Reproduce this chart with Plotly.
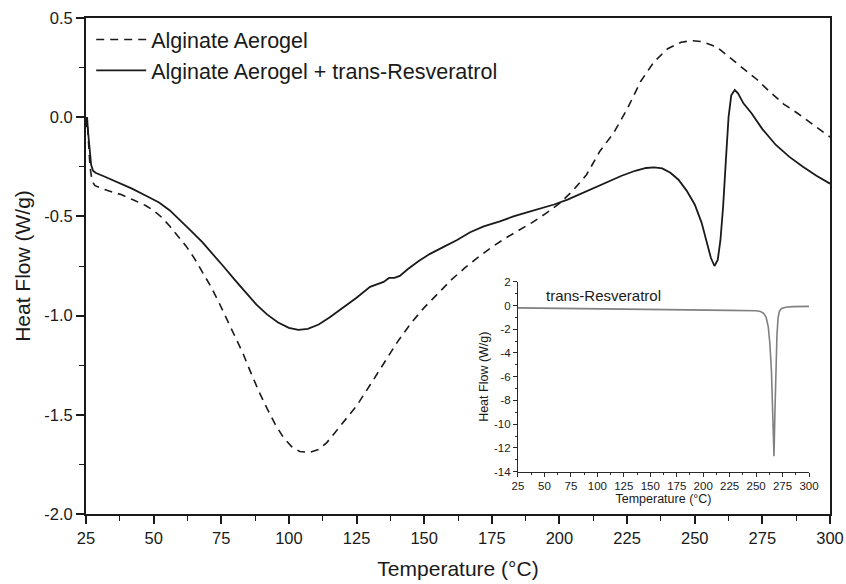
import plotly.graph_objects as go

# Alginate Aerogel (dashed)
t_aero = [25.0, 25.4, 25.9, 26.5, 27.2, 28.3, 33, 38, 43, 47, 50, 53, 56, 59, 62, 65, 68, 71, 74, 77,
          80, 83, 86, 89, 92, 95, 98, 101, 104, 107.5, 111, 114, 117, 120, 125, 130, 135, 140, 145, 150,
          155, 160, 165, 170, 175, 180, 185, 190, 195, 200, 205, 210, 215, 220, 225, 230, 235, 240, 245,
          249, 253, 258, 263, 268, 273, 278, 283, 288, 294, 300]
hf_aero = [-0.02, 0.0, -0.12, -0.25, -0.32, -0.345, -0.37, -0.39, -0.42, -0.445, -0.47, -0.505, -0.55,
           -0.60, -0.65, -0.71, -0.78, -0.85, -0.93, -1.015, -1.10, -1.19, -1.29, -1.385, -1.47, -1.55,
           -1.615, -1.66, -1.685, -1.69, -1.675, -1.64, -1.59, -1.54, -1.455, -1.35, -1.24, -1.135, -1.04,
           -0.96, -0.89, -0.82, -0.76, -0.705, -0.655, -0.61, -0.57, -0.53, -0.485, -0.435, -0.37, -0.29,
           -0.17, -0.08, 0.04, 0.18, 0.28, 0.345, 0.378, 0.386, 0.38, 0.355, 0.30, 0.245, 0.19, 0.125,
           0.065, 0.02, -0.04, -0.10]

# Alginate Aerogel + trans-Resveratrol (solid)
t_mix = [25.0, 25.4, 25.8, 26.3, 26.9, 27.6, 28.5, 32, 37, 42, 47, 52, 56, 60, 64, 68, 72, 76, 80, 84,
         88, 92, 96, 100, 103.5, 107, 111, 115, 120, 125, 130, 133, 135, 137, 139, 141, 144, 148, 152,
         157, 162, 167, 172, 178, 183, 188, 193, 198, 203, 208, 213, 218, 223, 228, 232, 235, 238, 241,
         244, 247, 250, 252.5, 254.5, 256, 257.3, 258.5, 259.5, 260.5, 261.5, 262.5, 263.5, 264.8, 266,
         268, 271, 275, 280, 285, 290, 295, 300]
hf_mix = [-0.05, 0.0, -0.08, -0.17, -0.24, -0.27, -0.28, -0.30, -0.33, -0.36, -0.395, -0.43, -0.47,
          -0.52, -0.575, -0.63, -0.69, -0.755, -0.82, -0.885, -0.945, -0.995, -1.035, -1.062, -1.072,
          -1.067, -1.045, -1.01, -0.96, -0.91, -0.855, -0.838, -0.83, -0.81, -0.81, -0.80, -0.765, -0.725,
          -0.69, -0.655, -0.62, -0.58, -0.55, -0.525, -0.50, -0.48, -0.46, -0.44, -0.415, -0.385, -0.355,
          -0.325, -0.295, -0.27, -0.256, -0.253, -0.258, -0.28, -0.315, -0.37, -0.44, -0.53, -0.63, -0.71,
          -0.75, -0.72, -0.62, -0.45, -0.22, 0.0, 0.11, 0.137, 0.12, 0.07, 0.02, -0.06, -0.14, -0.2,
          -0.25, -0.295, -0.335]

# Inset: trans-Resveratrol
t_res = [25, 50, 75, 100, 125, 150, 175, 200, 225, 250, 254, 257, 259.5, 261.5, 263, 264.5, 265.5,
         266.9, 267.8, 268.7, 269.7, 270.8, 272, 274, 278, 285, 292, 300]
hf_res = [-0.2, -0.22, -0.25, -0.28, -0.31, -0.33, -0.36, -0.38, -0.41, -0.45, -0.5, -0.65, -1.0, -1.8,
          -3.2, -5.5, -8.0, -12.7, -9.0, -5.5, -2.5, -1.0, -0.5, -0.25, -0.15, -0.1, -0.08, -0.08]

# Tick labels (hyphen-minus as in the original figure)
x_ticks = [25, 50, 75, 100, 125, 150, 175, 200, 225, 250, 275, 300]
x_tick_labels = ["25", "50", "75", "100", "125", "150", "175", "200", "225", "250", "275", "300"]
y_ticks = [0.5, 0.0, -0.5, -1.0, -1.5, -2.0]
y_tick_labels = ["0.5", "0.0", "-0.5", "-1.0", "-1.5", "-2.0"]
inset_y_ticks = [2, 0, -2, -4, -6, -8, -10, -12, -14]
inset_y_tick_labels = ["2", "0", "-2", "-4", "-6", "-8", "-10", "-12", "-14"]

x_minor = [25 + 12.5 * i for i in range(23)]
y_minor = [-2.0 + 0.25 * i for i in range(11)]
inset_y_minor = [-14 + i for i in range(17)]

FONT = "Liberation Sans, Arial, sans-serif"
INK = "#1a1a1a"
GREY_AX = "#2a2a2a"

fig = go.Figure()
fig.add_trace(go.Scatter(x=t_aero, y=hf_aero, mode="lines", name="Alginate Aerogel",
                         line=dict(color=INK, width=1.6, dash="8px,6px")))
fig.add_trace(go.Scatter(x=t_mix, y=hf_mix, mode="lines", name="Alginate Aerogel + trans-Resveratrol",
                         line=dict(color=INK, width=1.8)))
fig.add_trace(go.Scatter(x=t_res, y=hf_res, mode="lines", showlegend=False,
                         line=dict(color="#808080", width=1.6), xaxis="x2", yaxis="y2"))

fig.update_layout(
    width=846, height=584,
    margin=dict(l=86, r=16, t=18, b=70, autoexpand=False),
    paper_bgcolor="white", plot_bgcolor="white",
    font=dict(family=FONT, color=INK),
    showlegend=True,
    legend=dict(x=0.007, y=0.998, xanchor="left", yanchor="top", bgcolor="rgba(0,0,0,0)",
                font=dict(size=21.5, color=INK), itemwidth=50, tracegroupgap=0),
    xaxis=dict(range=[25, 300], tickmode="array", tickvals=x_ticks, ticktext=x_tick_labels, automargin=False,
               ticks="outside", ticklen=8, tickwidth=1.5, tickcolor=INK,
               showline=True, linewidth=2, linecolor=INK, mirror=True, showgrid=False, zeroline=False,
               tickfont=dict(size=16.5), title=dict(text="Temperature (°C)", font=dict(size=21), standoff=16),
               minor=dict(tickmode="array", tickvals=x_minor, ticks="outside", ticklen=5, tickwidth=1.2,
                          tickcolor=INK, showgrid=False)),
    yaxis=dict(range=[-2.0, 0.5], tickmode="array", tickvals=y_ticks, ticktext=y_tick_labels,
               automargin=False,
               ticks="outside", ticklen=8, tickwidth=1.5, tickcolor=INK,
               showline=True, linewidth=2, linecolor=INK, mirror=True, showgrid=False, zeroline=False,
               tickfont=dict(size=16.5), title=dict(text="Heat Flow (W/g)", font=dict(size=21), standoff=8),
               minor=dict(tickmode="array", tickvals=y_minor, ticks="outside", ticklen=5, tickwidth=1.2,
                          tickcolor=INK, showgrid=False)),
    xaxis2=dict(domain=[0.5806, 0.9718], anchor="y2", range=[25, 300], tickmode="array",
                tickvals=x_ticks, ticktext=x_tick_labels, automargin=False,
                ticks="outside", ticklen=4, tickwidth=1, tickcolor=GREY_AX,
                showline=True, linewidth=1, linecolor=GREY_AX, showgrid=False, zeroline=False,
                tickfont=dict(size=11.5), title=dict(text="Temperature (°C)", font=dict(size=12.5), standoff=2),
                minor=dict(tickmode="array", tickvals=x_minor, ticks="outside", ticklen=2, tickwidth=1,
                           tickcolor=GREY_AX, showgrid=False)),
    yaxis2=dict(domain=[0.0853, 0.4683], anchor="x2", range=[-14, 2], tickmode="array",
                tickvals=inset_y_ticks, ticktext=inset_y_tick_labels, automargin=False,
                ticks="outside", ticklen=4, tickwidth=1, tickcolor=GREY_AX,
                showline=True, linewidth=1, linecolor=GREY_AX, showgrid=False, zeroline=False,
                tickfont=dict(size=11.5), title=dict(text="Heat Flow (W/g)", font=dict(size=12.5), standoff=2),
                minor=dict(tickmode="array", tickvals=inset_y_minor, ticks="outside", ticklen=2, tickwidth=1,
                           tickcolor=GREY_AX, showgrid=False)),
    annotations=[dict(text="trans-Resveratrol", xref="x2", yref="y2", x=50, y=0.85, xanchor="left",
                      yanchor="middle", showarrow=False, font=dict(size=15, color=INK))],
)

fig.write_html("out.html")
